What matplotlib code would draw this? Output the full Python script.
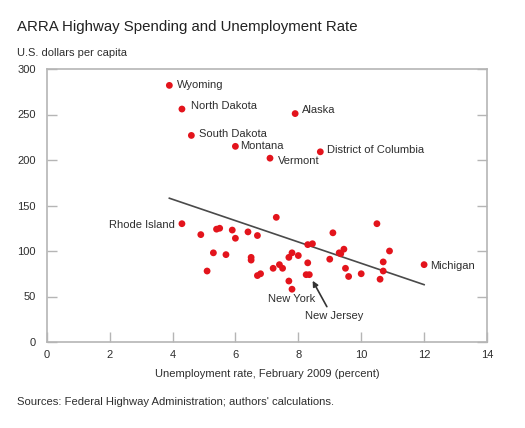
import matplotlib
matplotlib.use('Agg')
import matplotlib.pyplot as plt

plt.rcParams['font.family'] = ['Liberation Sans', 'DejaVu Sans']

# labelled states: unemployment rate (%), spending per capita ($)
labelled_names = ['Wyoming', 'North Dakota', 'Alaska', 'South Dakota', 'Montana',
                  'Vermont', 'District of Columbia', 'Rhode Island', 'Michigan',
                  'New York', 'New Jersey']
labelled_x = [3.9, 4.3, 7.9, 4.6, 6.0, 7.1, 8.7, 4.3, 12.0, 8.25, 8.35]
labelled_y = [282, 256, 251, 227, 215, 202, 209, 130, 85, 74, 74]

# other states
other_x = [4.9, 5.1, 5.3, 5.4, 5.5, 5.7, 5.9, 6.0, 6.4, 6.5, 6.5, 6.7, 6.7, 6.8,
           7.2, 7.3, 7.4, 7.5, 7.7, 7.8, 7.7, 7.8, 8.0, 8.3, 8.3, 8.45,
           9.0, 9.1, 9.3, 9.35, 9.45, 9.5, 9.6, 10.0, 10.5, 10.6, 10.7, 10.7, 10.9]
other_y = [118, 78, 98, 124, 125, 96, 123, 114, 121, 93, 90, 117, 73, 75,
           81, 137, 85, 81, 93, 98, 67, 58, 95, 87, 107, 108,
           91, 120, 98, 97, 102, 81, 72, 75, 130, 69, 88, 78, 100]

# fitted line end points
fit_x = [3.9, 12.0]
fit_y = [158, 63]

# label offsets in pixels (dx, dy, ha)
label_offsets = {
    'Wyoming': (8, 0, 'left'),
    'North Dakota': (9, 3, 'left'),
    'Alaska': (7, 4, 'left'),
    'South Dakota': (8, 1, 'left'),
    'Montana': (5, 0, 'left'),
    'Vermont': (8, -3, 'left'),
    'District of Columbia': (7, 2, 'left'),
    'Rhode Island': (-7, -1, 'right'),
    'Michigan': (6, -1, 'left'),
    'New York': (-15, -24, 'center'),
}

red = '#e3141c'
txt = '#2e2e2e'
grey = '#b5b5b5'

fig = plt.figure(figsize=(5.25, 4.28), dpi=100)
ax = fig.add_axes([46.7 / 525, 1 - 342 / 428, (487 - 46.7) / 525, (342 - 69) / 428])

ax.plot(fit_x, fit_y, color='#4a4a4a', lw=1.2, zorder=2)
ax.scatter(other_x, other_y, s=24, color=red, edgecolors='none', zorder=3)
ax.scatter(labelled_x, labelled_y, s=24, color=red, edgecolors='none', zorder=3)

for name, x, y in zip(labelled_names, labelled_x, labelled_y):
    if name in label_offsets:
        dx, dy, ha = label_offsets[name]
        ax.annotate(name, (x, y), xytext=(dx, dy), textcoords='offset pixels',
                    ha=ha, va='center', fontsize=8, color=txt)

i = labelled_names.index('New Jersey')
ax.annotate('New Jersey', (labelled_x[i], labelled_y[i]), xytext=(25, -41),
            textcoords='offset pixels', ha='center', va='center', fontsize=8, color=txt,
            arrowprops=dict(arrowstyle='-|>', color='#333333', lw=1.2, mutation_scale=8,
                            shrinkA=1, shrinkB=5, relpos=(0.41, 1.0)))

ax.set_xlim(0, 14)
ax.set_ylim(0, 300)
ax.set_xticks(range(0, 15, 2))
ax.set_yticks(range(0, 301, 50))
for s in ax.spines.values():
    s.set_color(grey)
    s.set_linewidth(1.2)
ax.tick_params(direction='in', length=7, width=1, color=grey, labelsize=8, labelcolor=txt,
               right=True)
ax.tick_params(axis='x', pad=6)
ax.tick_params(axis='y', pad=8)
ax.set_xlabel('Unemployment rate, February 2009 (percent)', fontsize=8, color=txt, labelpad=6)

fig.text(17 / 525, 1 - 27 / 428, 'ARRA Highway Spending and Unemployment Rate',
         fontsize=10.8, color='#222222', va='center')
fig.text(17 / 525, 1 - 53 / 428, 'U.S. dollars per capita', fontsize=8, color=txt, va='center')
fig.text(17 / 525, 1 - 402 / 428, "Sources: Federal Highway Administration; authors' calculations.",
         fontsize=8.1, color=txt, va='center')

fig.savefig('out.png', dpi=100)
